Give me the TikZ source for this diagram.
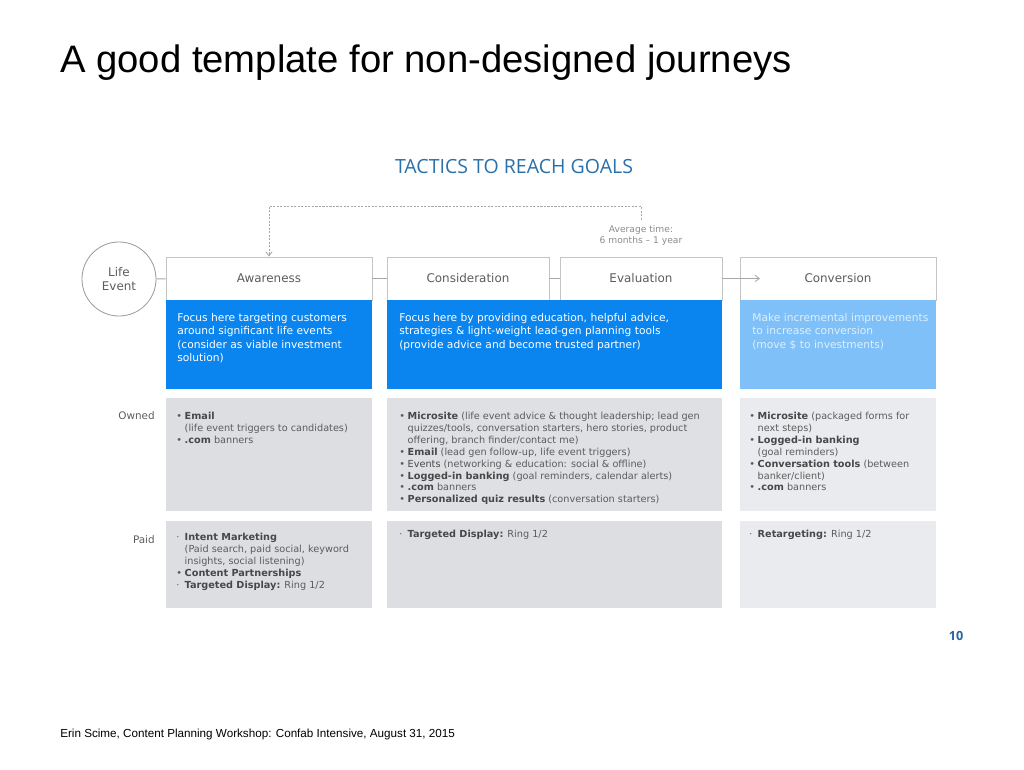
\documentclass[tikz,border=0pt]{standalone}
\usepackage{fontspec}
\usepackage{graphicx}
\setmainfont{DejaVu Sans}
\newfontfamily\arialfont{Liberation Sans}
\newfontfamily\headfont{Open Sans}
\usetikzlibrary{arrows.meta}

\definecolor{focusblue}{RGB}{10,132,238}
\definecolor{lightblue}{RGB}{126,192,247}
\definecolor{paletext}{RGB}{222,239,253}
\definecolor{cellgray}{RGB}{220,222,225}
\definecolor{cellgraymid}{RGB}{222,224,227}
\definecolor{cellpale}{RGB}{233,235,238}
\definecolor{linegray}{RGB}{196,196,196}
\definecolor{textgray}{RGB}{92,92,92}
\definecolor{keygray}{RGB}{72,72,72}
\definecolor{notegray}{RGB}{140,140,140}
\definecolor{headblue}{RGB}{42,112,170}
\definecolor{pageblue}{RGB}{40,100,160}

% bullet list helpers
\newcommand\bu{\makebox[6pt][l]{•}}
\newcommand\smb{\makebox[6pt][l]{·}}
\newcommand\ind{\hspace*{6pt}}
\newcommand\kw[1]{\textbf{\color{keygray}#1}}

\tikzset{
  hdr/.style={draw=linegray, fill=white, line width=0.6pt, inner sep=0pt,
    minimum height=1.075cm, text=textgray, font=\fontsize{8.5}{10}\selectfont},
  focusbox/.style={fill=focusblue, inner sep=0pt, minimum height=2.225cm},
  convbox/.style={fill=lightblue, inner sep=0pt, minimum height=2.225cm},
  cellbox/.style={fill=#1, inner sep=0pt},
  focustext/.style={anchor=north west, inner sep=0pt, align=left, text=white,
    font=\fontsize{7.6}{9.6}\selectfont},
  celltext/.style={anchor=north west, inner sep=0pt, align=left, text=textgray,
    font=\fontsize{6.9}{8.45}\selectfont},
  rowlabel/.style={anchor=base east, inner sep=0pt, text=textgray,
    font=\fontsize{7.4}{9}\selectfont},
  link/.style={draw=linegray!85!black, line width=0.6pt},
}

\begin{document}
\begin{tikzpicture}[x=0.025cm, y=-0.025cm]
\useasboundingbox (0,0) rectangle (1024,769);

% titles
\node[anchor=base west, inner sep=0pt, font=\arialfont\fontsize{27.2}{30}\selectfont]
  (title) at (60,72) {A good template for non-designed journeys};
\node[anchor=base, inner sep=0pt, text=headblue, font=\headfont\fontsize{13.9}{16}\selectfont]
  (tactics) at (514,173) {TACTICS TO REACH GOALS};

% life event and stage headers
\node[circle, draw=linegray!80!black, line width=0.6pt, minimum size=1.85cm, inner sep=0pt,
  align=center, text=textgray, font=\fontsize{8.5}{10.6}\selectfont]
  (life) at (119,279) {Life\\Event};
\node[hdr, minimum width=5.15cm] (aw) at (269,278.5) {Awareness};
\node[hdr, minimum width=4.05cm] (co) at (468,278.5) {Consideration};
\node[hdr, minimum width=4.05cm] (ev) at (641,278.5) {Evaluation};
\node[hdr, minimum width=4.9cm]  (cv) at (838,278.5) {Conversion};

% focus boxes
\node[focusbox, minimum width=5.15cm, anchor=north] (awfocus) at (269,300) {};
\node[focusbox, minimum width=8.375cm, anchor=north] (cofocus) at (554.5,300) {};
\node[convbox, minimum width=4.9cm, anchor=north] (cvfocus) at (838,300) {};

\node[focustext] (awfocustext) at (177,313)
  {Focus here targeting customers\\around significant life events\\(consider as viable investment\\solution)};
\node[focustext] (cofocustext) at (399,313)
  {Focus here by providing education, helpful advice,\\strategies \& light-weight lead-gen planning tools\\(provide advice and become trusted partner)};
\node[focustext, text=paletext] (cvfocustext) at (752,313)
  {Make incremental improvements\\to increase conversion\\(move \$ to investments)};

% owned row
\node[rowlabel] (ownedlabel) at (155,419) {Owned};
\node[cellbox=cellgray, minimum width=5.15cm, minimum height=2.825cm, anchor=north] (awowned) at (269,398) {};
\node[cellbox=cellgraymid, minimum width=8.375cm, minimum height=2.825cm, anchor=north] (coowned) at (554.5,398) {};
\node[cellbox=cellpale, minimum width=4.9cm, minimum height=2.825cm, anchor=north] (cvowned) at (838,398) {};

\node[celltext] (awownedtext) at (176,412)
  {\bu\kw{Email}\\\ind(life event triggers to candidates)\\\bu\kw{.com} banners};
\node[celltext] (coownedtext) at (399,412)
  {\bu\kw{Microsite} (life event advice \& thought leadership; lead gen\\
   \ind quizzes/tools, conversation starters, hero stories, product\\
   \ind offering, branch finder/contact me)\\
   \bu\kw{Email} (lead gen follow-up, life event triggers)\\
   \bu{\color{keygray}Events} (networking \& education: social \& offline)\\
   \bu\kw{Logged-in banking} (goal reminders, calendar alerts)\\
   \bu\kw{.com} banners\\
   \bu\kw{Personalized quiz results} (conversation starters)};
\node[celltext] (cvownedtext) at (749,412)
  {\bu\kw{Microsite} (packaged forms for\\\ind next steps)\\
   \bu\kw{Logged-in banking}\\\ind(goal reminders)\\
   \bu\kw{Conversation tools} (between\\\ind banker/client)\\
   \bu\kw{.com} banners};

% paid row
\node[rowlabel] (paidlabel) at (155,543) {Paid};
\node[cellbox=cellgray, minimum width=5.15cm, minimum height=2.175cm, anchor=north] (awpaid) at (269,521) {};
\node[cellbox=cellgray, minimum width=8.375cm, minimum height=2.175cm, anchor=north] (copaid) at (554.5,521) {};
\node[cellbox=cellpale, minimum width=4.9cm, minimum height=2.175cm, anchor=north] (cvpaid) at (838,521) {};

\node[celltext] (awpaidtext) at (176,533)
  {\smb\kw{Intent Marketing}\\\ind(Paid search, paid social, keyword\\\ind insights, social listening)\\
   \bu\kw{Content Partnerships}\\\smb\kw{Targeted Display:} Ring 1/2};
\node[celltext] (copaidtext) at (399,530) {\smb\kw{Targeted Display:} Ring 1/2};
\node[celltext] (cvpaidtext) at (749,530) {\smb\kw{Retargeting:} Ring 1/2};

% connectors between stages
\draw[link] (life) -- (aw);
\draw[link] (aw) -- (co);
\draw[link] (co) -- (ev);
\coordinate (cvin) at (760,278.5);
\draw[link, -{Straight Barb[length=3pt, width=4.5pt]}] (ev.east) -- (cvin);

% dashed loop back to awareness
\node[anchor=north, inner sep=0pt, align=center, text=notegray,
  font=\fontsize{6.5}{7.9}\selectfont] (avgtime) at (641,225)
  {Average time:\\6 months – 1 year};
\coordinate (loopstart) at (641,220);
\coordinate (loopcorner) at (641,206);
\draw[link, dashed, dash pattern=on 1.5pt off 1pt, -{Straight Barb[length=3pt, width=4.5pt]}]
  (loopstart) -- (loopcorner) -| (aw.north);

% page number and footer
\node[inner sep=0pt, text=pageblue, font=\headfont\bfseries\fontsize{9}{10}\selectfont]
  (pagenum) at (956,636) {10};
\node[anchor=base west, inner sep=0pt, font=\arialfont\fontsize{8.3}{9}\selectfont]
  (footer) at (60,737) {Erin Scime, Content Planning Workshop: Confab Intensive, August 31, 2015};
\end{tikzpicture}
\end{document}
